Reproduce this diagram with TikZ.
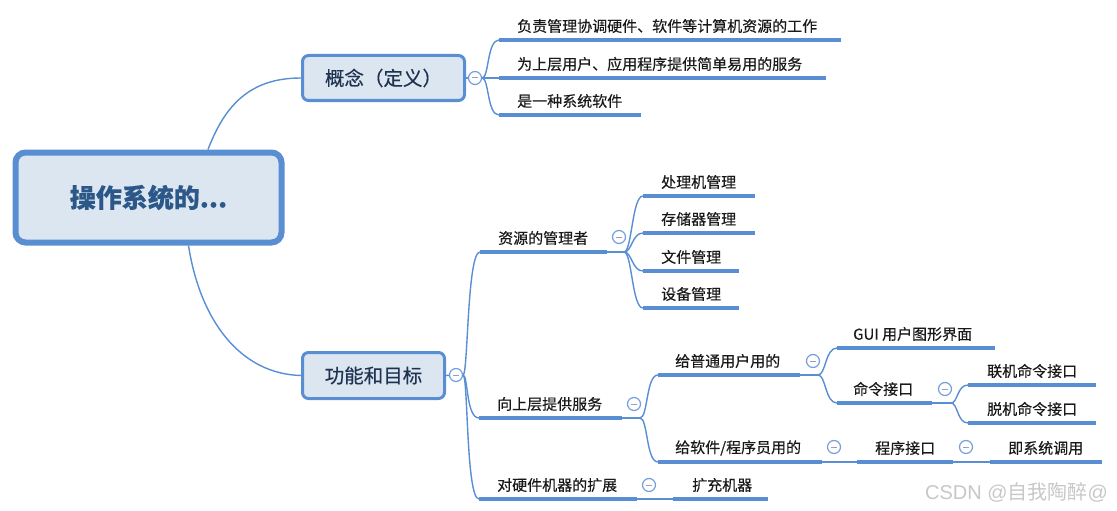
\documentclass[tikz,border=0pt]{standalone}
\usepackage{fontspec}
\setmainfont{Noto Sans CJK SC}[FakeBold=0.35]
\newfontfamily\leaffont{Noto Sans CJK SC}[FakeBold=0.35]
\newfontfamily\wmfont{Liberation Sans}
\newfontfamily\wmcjk{Noto Sans CJK SC}
\definecolor{lnblue}{HTML}{5A8ED3}
\definecolor{boxfill}{HTML}{DCE6F1}
\definecolor{navy}{HTML}{1F3350}
\definecolor{roottxt}{HTML}{2C5789}
\definecolor{minusgray}{HTML}{9A9CC0}
\begin{document}
\begin{tikzpicture}[x=1pt,y=-1pt,
  conn/.style={draw=lnblue, line width=1.4pt},
  uline/.style={draw=lnblue, line width=4pt},
  txt/.style={anchor=west, inner sep=0pt, font=\leaffont\fontsize{15}{18}\selectfont, text=black!90},
  topic/.style={draw=lnblue, fill=boxfill, line width=3pt, rounded corners=6pt, font=\leaffont\fontsize{19.5}{23}\selectfont, text=navy, inner sep=0pt},
  fold/.style={circle, draw=lnblue!85, fill=white, line width=1.2pt, minimum size=13pt, inner sep=0pt,
    path picture={\draw[minusgray, line width=1pt] ([xshift=-3pt]path picture bounding box.center) -- ([xshift=3pt]path picture bounding box.center);}},
]
\useasboundingbox (0,0) rectangle (1117,511);

% root and topics
\node[draw=lnblue, fill=boxfill, line width=6pt, rounded corners=10pt, minimum width=266pt, minimum height=90pt, inner sep=0pt,
  font=\bfseries\fontsize{26}{30}\selectfont, text=roottxt] (root) at (148.5,197.5) {操作系统的...};
\node[topic, minimum width=162pt, minimum height=45pt] (kn) at (383.5,78) {概念（定义）};
\node[topic, minimum width=142pt, minimum height=46pt] (gn) at (373.5,375.5) {功能和目标};

\draw[conn] ([xshift=59.5pt]root.north) .. controls (225,105) and (250,78) .. (kn.west);
\draw[conn] ([xshift=40pt]root.south) .. controls (200,320) and (240,374) .. (gn.west);

% fold circles
\node[fold] (ckn) at (475,78) {};
\node[fold] (cgn) at (456,375) {};
\node[fold] (czy) at (619,237) {};
\node[fold] (cxs) at (634,404) {};
\node[fold] (cdy) at (649,485) {};
\node[fold] (cgp) at (813,361) {};
\node[fold] (cml) at (945,389) {};
\node[fold] (cgr) at (834,447) {};
\node[fold] (ccx) at (966,447) {};

% concept branch
\node[txt] (a1) at (517,26) {负责管理协调硬件、软件等计算机资源的工作};
\node[txt] (a2) at (517,64) {为上层用户、应用程序提供简单易用的服务};
\node[txt] (a3) at (517,101) {是一种系统软件};
\coordinate (a1s) at (499,40); \coordinate (a1e) at (841,40);
\coordinate (a2s) at (499,78); \coordinate (a2e) at (826,78);
\coordinate (a3s) at (499,115); \coordinate (a3e) at (641,115);
\draw[uline] (a1s) -- (a1e);
\draw[uline] (a2s) -- (a2e);
\draw[uline] (a3s) -- (a3e);
\draw[conn] (kn.east) -- (ckn);
\draw[conn] (ckn.east) .. controls +(7,0) and +(-12,0) .. (a1s);
\draw[conn] (ckn.east) -- (a2s);
\draw[conn] (ckn.east) .. controls +(7,0) and +(-12,0) .. (a3s);

% function branch
\node[txt] (r1) at (498,238) {资源的管理者};
\node[txt] (r2) at (497,404) {向上层提供服务};
\node[txt] (r3) at (497,485) {对硬件机器的扩展};
\coordinate (r1s) at (480,252); \coordinate (r1e) at (607,252);
\coordinate (r2s) at (479,418); \coordinate (r2e) at (622,418);
\coordinate (r3s) at (479,499); \coordinate (r3e) at (637,499);
\draw[uline] (r1s) -- (r1e);
\draw[uline] (r2s) -- (r2e);
\draw[uline] (r3s) -- (r3e);
\draw[conn] (gn.east) -- (cgn);
\draw[conn] (cgn.east) .. controls +(5,0) and +(-13,0) .. (r1s);
\draw[conn] (cgn.east) .. controls +(5,0) and +(-13,0) .. (r2s);
\draw[conn] (cgn.east) .. controls +(5,0) and +(-13,0) .. (r3s);

% resources
\coordinate (j1) at (624,252);
\draw[conn] (r1e) -- (j1);
\node[txt] (b1) at (661,182) {处理机管理};
\node[txt] (b2) at (661,219) {存储器管理};
\node[txt] (b3) at (661,257) {文件管理};
\node[txt] (b4) at (661,294) {设备管理};
\coordinate (b1s) at (643,196); \coordinate (b1e) at (755,196);
\coordinate (b2s) at (643,233); \coordinate (b2e) at (755,233);
\coordinate (b3s) at (643,271); \coordinate (b3e) at (739,271);
\coordinate (b4s) at (643,308); \coordinate (b4e) at (739,308);
\foreach \b in {b1,b2,b3,b4}{
  \draw[uline] (\b s) -- (\b e);
  \draw[conn] (j1) .. controls +(8,0) and +(-11,0) .. (\b s);
}

% services
\coordinate (j2) at (640,418);
\draw[conn] (r2e) -- (j2);
\node[txt] (s1) at (675,361) {给普通用户用的};
\node[txt] (s2) at (675,448) {给软件/程序员用的};
\coordinate (s1s) at (658,375); \coordinate (s1e) at (800,375);
\coordinate (s2s) at (658,462); \coordinate (s2e) at (822,462);
\draw[uline] (s1s) -- (s1e);
\draw[uline] (s2s) -- (s2e);
\draw[conn] (j2) .. controls +(8,0) and +(-12,0) .. (s1s);
\draw[conn] (j2) .. controls +(8,0) and +(-12,0) .. (s2s);

% ordinary users
\coordinate (j3) at (818,375);
\draw[conn] (s1e) -- (j3);
\node[txt] (g1) at (853,334) {GUI 用户图形界面};
\node[txt] (g2) at (853,389) {命令接口};
\coordinate (g1s) at (837,348); \coordinate (g1e) at (995,348);
\coordinate (g2s) at (837,403); \coordinate (g2e) at (932,403);
\draw[uline] (g1s) -- (g1e);
\draw[uline] (g2s) -- (g2e);
\draw[conn] (j3) .. controls +(8,0) and +(-12,0) .. (g1s);
\draw[conn] (j3) .. controls +(8,0) and +(-12,0) .. (g2s);

% command interface
\coordinate (j4) at (951,403);
\draw[conn] (g2e) -- (j4);
\node[txt] (m1) at (987,371) {联机命令接口};
\node[txt] (m2) at (987,409) {脱机命令接口};
\coordinate (m1s) at (968,385); \coordinate (m1e) at (1096,385);
\coordinate (m2s) at (968,423); \coordinate (m2e) at (1096,423);
\draw[uline] (m1s) -- (m1e);
\draw[uline] (m2s) -- (m2e);
\draw[conn] (j4) .. controls +(7,0) and +(-11,0) .. (m1s);
\draw[conn] (j4) .. controls +(7,0) and +(-11,0) .. (m2s);

% programmers
\node[txt] (p1) at (875,448) {程序接口};
\node[txt] (p2) at (1008,448) {即系统调用};
\coordinate (p1s) at (857,462); \coordinate (p1e) at (953,462);
\coordinate (p2s) at (990,462); \coordinate (p2e) at (1102,462);
\draw[uline] (p1s) -- (p1e);
\draw[uline] (p2s) -- (p2e);
\draw[conn] (s2e) -- (p1s);
\draw[conn] (p1e) -- (p2s);

% hardware extension
\node[txt] (e1) at (692,485) {扩充机器};
\coordinate (e1s) at (673,499); \coordinate (e1e) at (768,499);
\draw[uline] (e1s) -- (e1e);
\draw[conn] (r3e) -- (e1s);

% watermark
\node[anchor=west, inner sep=0pt, text=black!22, font=\fontsize{20}{24}\selectfont] (wm) at (925,492) {\wmfont CSDN @\wmcjk 自我陶醉\wmfont @};
\end{tikzpicture}
\end{document}
